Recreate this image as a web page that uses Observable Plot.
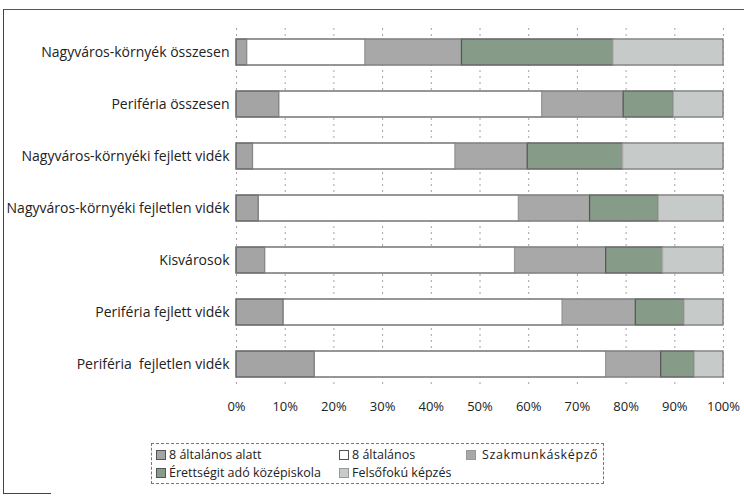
<!DOCTYPE html>
<html><head><meta charset="utf-8">
<script src="https://cdn.jsdelivr.net/npm/d3@7"></script>
<script src="https://cdn.jsdelivr.net/npm/@observablehq/plot@0.6"></script>
<style>
body{margin:0;background:#fff;font-family:"Open Sans",sans-serif;}
#wrap{position:relative;width:744px;height:498px;overflow:hidden;}
#chart{position:absolute;left:0;top:0;}
.fr{position:absolute;background:#444;}
#legend{position:absolute;left:151px;top:443px;width:451px;height:39px;border:1px dashed #777;font-size:12.5px;color:#222;}
.li{position:absolute;display:flex;align-items:center;white-space:nowrap;line-height:16px;}
.sw{width:8px;height:8px;margin-right:3px;border:1px solid #555;box-sizing:content-box;}
</style></head>
<body>
<div id="wrap">
<div class="fr" style="left:3px;top:9px;width:741px;height:1px;background:#555"></div>
<div class="fr" style="left:3px;top:9px;width:1px;height:485px;"></div>
<div class="fr" style="left:3px;top:493px;width:48px;height:1px;"></div>
<div id="chart"></div>
<div id="legend"></div>
</div>
<script>
const categories = [
  "Nagyváros-környék összesen",
  "Periféria összesen",
  "Nagyváros-környéki fejlett vidék",
  "Nagyváros-környéki fejletlen vidék",
  "Kisvárosok",
  "Periféria fejlett vidék",
  "Periféria  fejletlen vidék"
];
const seriesNames = ["8 általános alatt", "8 általános", "Szakmunkásképző", "Érettségit adó középiskola", "Felsőfokú képzés"];
const alatt8 = [2.2, 8.8, 3.4, 4.6, 5.9, 9.7, 16.1];
const altalanos8 = [24.3, 54.0, 41.6, 53.4, 51.3, 57.3, 59.8];
const szakmunkas = [19.8, 16.7, 14.8, 14.6, 18.7, 15.0, 11.3];
const erettsegi = [31.1, 10.3, 19.6, 14.1, 11.7, 10.0, 6.9];
const felsofoku = [22.6, 10.2, 20.6, 13.3, 12.4, 8.0, 5.9];
const xTicks = [0, 10, 20, 30, 40, 50, 60, 70, 80, 90, 100];

const colors = ["#a4a4a4", "#ffffff", "#a8a8a8", "#869c88", "#c6cac9"];
const strokes = ["#555", "#888", "#999", "#555", "#aaa"];

const seriesVals = [alatt8, altalanos8, szakmunkas, erettsegi, felsofoku];
const rows = [];
seriesNames.forEach((s, si) => categories.forEach((c, ci) => rows.push({cat: c, series: s, si, value: seriesVals[si][ci]})));

const chart = Plot.plot({
  width: 744,
  height: 430,
  marginLeft: 236,
  marginRight: 21,
  marginTop: 28,
  marginBottom: 42,
  style: {fontFamily: "'Open Sans', sans-serif", fontSize: "13px", color: "#222", background: "transparent"},
  x: {domain: [0, 100], label: null},
  y: {domain: categories, label: null, paddingInner: 0.5, paddingOuter: 0.21},
  color: {domain: seriesNames, range: colors},
  marks: [
    Plot.gridX(xTicks, {stroke: "#666", strokeOpacity: 0.6, strokeDasharray: "2,4"}),
    Plot.axisX({ticks: xTicks, tickFormat: d => d + "%", tickSize: 0, tickPadding: 13, fontSize: 13, label: null}),
    Plot.axisY({tickSize: 0, tickPadding: 7, fontSize: 14, label: null}),
    Plot.barX(rows, Plot.stackX({x: "value", y: "cat", fill: "series", order: seriesNames,
      stroke: d => strokes[d.si], strokeWidth: 1.2})),
    Plot.barX(categories.map(c => ({cat: c})), {x1: 0, x2: 100, y: "cat", fill: "none", stroke: "#777", strokeWidth: 1})
  ]
});
document.getElementById("chart").appendChild(chart);

const legend = document.getElementById("legend");
const pos = [[4, 3], [187, 3], [314, 3], [4, 21], [187, 21]];
seriesNames.forEach((s, i) => {
  const d = document.createElement("div");
  d.className = "li";
  d.style.left = pos[i][0] + "px";
  d.style.top = pos[i][1] + "px";
  const sw = document.createElement("span");
  sw.className = "sw";
  sw.style.background = colors[i];
  sw.style.borderColor = i === 1 ? "#555" : (i === 2 || i === 4 ? "#999" : "#555");
  d.appendChild(sw);
  const t = document.createElement("span");
  t.textContent = s;
  if (i === 2) { t.style.marginLeft = "3px"; t.style.letterSpacing = "0.6px"; }
  d.appendChild(t);
  legend.appendChild(d);
});
</script>
</body></html>
